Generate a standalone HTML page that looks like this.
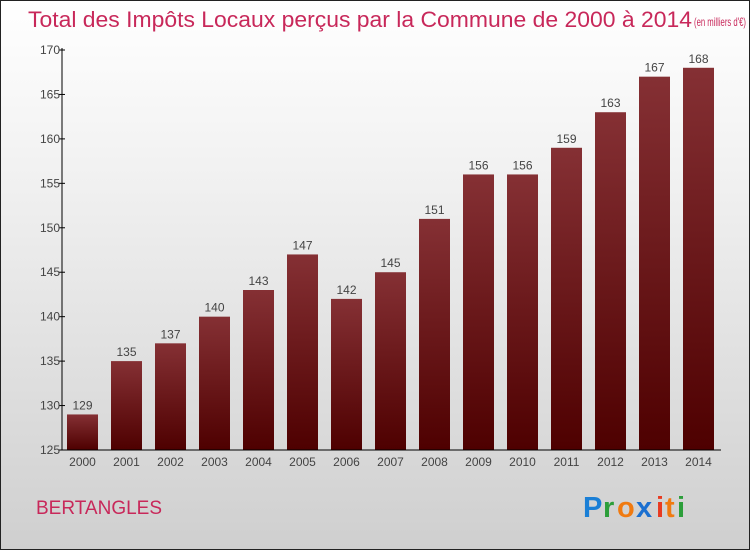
<!DOCTYPE html>
<html><head><meta charset="utf-8"><style>
body{margin:0;width:750px;height:550px;overflow:hidden;font-family:"Liberation Sans",sans-serif}
#wrap{position:absolute;left:0;top:0;width:748px;height:548px;border:1px solid #222;background:linear-gradient(#ffffff,#f2f2f2 30%,#cfcfcf)}
</style></head><body>
<div id="wrap">
<svg id="chart" width="750" height="550" style="position:absolute;left:-1px;top:-1px">
<defs><linearGradient id="bg" x1="0" y1="0" x2="0" y2="1"><stop offset="0" stop-color="#853034"/><stop offset="1" stop-color="#4e0000"/></linearGradient></defs>
<text x="28" y="27" font-size="22" fill="#c8285a" textLength="664" lengthAdjust="spacingAndGlyphs">Total des Impôts Locaux perçus par la Commune de 2000 à 2014</text>
<text x="694" y="26" font-size="12" fill="#c8285a" textLength="52" lengthAdjust="spacingAndGlyphs">(en milliers d'€)</text>
<text x="36" y="514" font-size="19" fill="#c8285a">BERTANGLES</text>
<g font-size="29" font-weight="bold">
<text x="583" y="517" fill="#1a7fd6">P</text><text x="603" y="517" fill="#2c9e3a">r</text><text x="617" y="517" fill="#f07a10">o</text><text x="636" y="517" fill="#1a6fd0">x</text><text x="656" y="517" fill="#e83a20">i</text><text x="665" y="517" fill="#f07a10">t</text><text x="677" y="517" fill="#2c9e3a">i</text></g>
</svg></div>
<script>
const categories=["2000","2001","2002","2003","2004","2005","2006","2007","2008","2009","2010","2011","2012","2013","2014"];
const values=[129,135,137,140,143,147,142,145,151,156,156,159,163,167,168];
const yTicks=[125,130,135,140,145,150,155,160,165,170];
(function(){
const svg=document.getElementById('chart');
const NS='http://www.w3.org/2000/svg';
const y0=125,y1=170,pTop=50,pBot=450,pLeft=62,pRight=721;
const ys=v=>pBot-(v-y0)/(y1-y0)*(pBot-pTop);
const step=44,first=67,bw=31;
const xs=i=>first+i*step;
function mk(t,a){const e=document.createElementNS(NS,t);for(const k in a)e.setAttribute(k,a[k]);svg.appendChild(e);return e;}
values.forEach((v,i)=>{
 const r=mk('rect',{x:xs(i),y:ys(v),width:bw,height:pBot-ys(v),fill:'url(#bg)'});
 
 
 const t=mk('text',{x:xs(i)+bw/2,y:ys(v)-5,'text-anchor':'middle','font-size':12,fill:'#444'});
 t.textContent=v;
 
 
 const c=mk('text',{x:xs(i)+bw/2,y:466,'text-anchor':'middle','font-size':12,fill:'#444'});
 c.textContent=categories[i];
 
 
});
yTicks.forEach(v=>{
 mk('line',{x1:pLeft-3,x2:pLeft+3,y1:ys(v),y2:ys(v),stroke:'#000'});
 const t=mk('text',{x:pLeft-2,y:ys(v)+4,'text-anchor':'end','font-size':12,fill:'#444'});
 t.textContent=v;
 
 
});
const ya=mk('line',{x1:pLeft,x2:pLeft,y1:pTop-2,y2:pBot,stroke:'#000'});


const xa=mk('line',{x1:pLeft,x2:pRight,y1:pBot,y2:pBot,stroke:'#000'});


})();
</script>
</body></html>
